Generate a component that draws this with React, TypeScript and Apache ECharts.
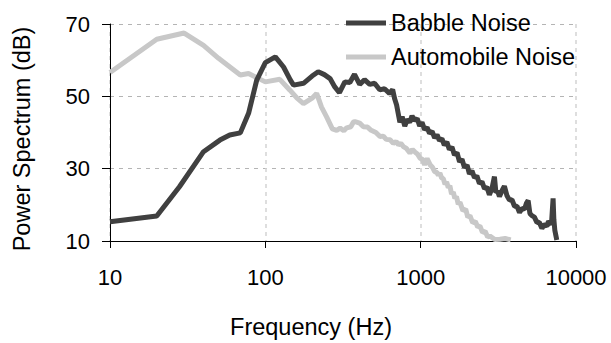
import React, { useEffect, useRef } from "react";
import * as echarts from "echarts";

const xTicks = [10, 100, 1000, 10000];
const yTicks = [10, 30, 50, 70];

const seriesNames = ["Babble Noise", "Automobile Noise"];

const babble: [number, number][] = [
  [10, 15.3], [20, 16.9], [28, 25], [40, 34.7], [51, 37.9], [59, 39.3], [69, 39.9],
  [78, 45.3], [88, 54.5], [100, 59.3], [116, 60.9], [131, 58.1], [145, 54.5],
  [152, 53.1], [176, 53.6], [200, 55.6], [219, 56.8], [240, 56], [261, 54.9],
  [280, 52.6], [300, 51.0], [325, 54.0], [350, 53.8], [375, 56.1], [405, 53.3],
  [435, 54.6], [470, 53.3], [505, 53.6], [545, 51.8], [585, 52.1], [630, 50.8],
  [660, 51.9], [680, 49.3], [700, 47.6], [735, 42.8], [760, 44.4], [790, 41.8],
  [820, 43.6], [850, 42.8], [880, 44.6], [915, 43.3], [950, 43.9], [985, 41.8],
  [1020, 42.8], [1060, 40.8], [1100, 41.4], [1140, 39.8], [1185, 40.3],
  [1230, 38.5], [1275, 39.4], [1320, 37.8], [1370, 38.3], [1420, 36.5],
  [1475, 37.4], [1530, 35.3], [1590, 36.0], [1650, 33.8], [1715, 34.4],
  [1780, 31.9], [1845, 32.6], [1915, 30.3], [1990, 31.0], [2060, 28.6],
  [2140, 29.4], [2220, 27.5], [2300, 28.0], [2390, 25.9], [2480, 26.4],
  [2575, 24.5], [2670, 24.9], [2770, 22.8], [2880, 24.6], [2985, 27.8],
  [3050, 23.4], [3130, 23.8], [3215, 22.3], [3340, 23.9], [3460, 25.2],
  [3590, 22.6], [3730, 21.3], [3870, 21.4], [4020, 19.6], [4170, 19.6],
  [4330, 17.9], [4500, 19.0], [4660, 18.8], [4800, 20.5], [4920, 21.2],
  [5050, 17.6], [5200, 17.0], [5400, 16.6], [5600, 15.1], [5800, 15.2],
  [6030, 13.5], [6250, 14.6], [6500, 14.1], [6650, 15.5], [6780, 15.1],
  [6950, 14.6], [7120, 21.8], [7200, 16], [7305, 13.0], [7520, 10.3],
];

const automobile: [number, number][] = [
  [10, 56.6], [20, 65.8], [30, 67.5], [40, 64.1], [50, 60.5], [69, 55.9],
  [78, 56.3], [100, 54], [124, 54.7], [144, 51.7], [160, 49.5], [176, 48],
  [200, 49.5], [214, 50.8], [230, 47], [248, 44.3], [270, 41.0], [288, 40.6],
  [303, 41.2], [320, 40.5], [334, 41.3], [355, 41.6], [369, 42.9], [378, 43.0],
  [405, 42.6], [428, 41.6], [455, 41.5], [480, 40.6], [515, 40.0], [547, 38.9],
  [575, 39.0], [600, 38.1], [635, 38.0], [667, 37.0], [695, 37.5], [720, 36.6],
  [745, 37.0], [773, 36.1], [810, 35.6], [853, 34.3], [885, 35.3], [920, 34.6],
  [955, 34.0], [991, 32.9], [1025, 32.6], [1060, 31.1], [1100, 32.8],
  [1149, 31.1], [1190, 30.4], [1230, 29.2], [1268, 29.0], [1300, 28.2],
  [1330, 28.8], [1365, 27.4], [1397, 27.3], [1435, 25.7], [1469, 26.3],
  [1505, 24.8], [1542, 25.3], [1580, 23.0], [1622, 23.5], [1660, 21.8],
  [1700, 22.3], [1745, 20.2], [1791, 20.7], [1870, 18.4], [1950, 18.8],
  [2010, 16.6], [2076, 17.0], [2160, 15.1], [2250, 15.4], [2330, 13.9],
  [2406, 14.2], [2500, 12.4], [2600, 12.7], [2700, 11.1], [2790, 11.4],
  [3000, 10.4], [3236, 10.5], [3500, 10.7], [3800, 10.3],
];

const FONT = "'Liberation Sans', Arial, Helvetica, sans-serif";

export default function App() {
  const ref = useRef<HTMLDivElement>(null);
  useEffect(() => {
    if (!ref.current) return;
    const chart = echarts.init(ref.current, undefined, { renderer: "svg" });
    chart.setOption({
      animation: false,
      backgroundColor: "#ffffff",
      grid: { left: 110, right: 35, top: 24, bottom: 102 },
      legend: {
        orient: "vertical",
        left: 341,
        top: 6,
        itemWidth: 40,
        itemHeight: 5,
        itemGap: 10,
        icon: "rect",
        data: seriesNames,
        textStyle: { fontFamily: FONT, fontSize: 23.5, color: "#000", lineHeight: 24 },
      },
      xAxis: {
        type: "log",
        logBase: 10,
        min: xTicks[0],
        max: xTicks[xTicks.length - 1],
        axisLine: { show: true, lineStyle: { color: "#000", width: 1 } },
        axisTick: { show: true, length: 7, lineStyle: { color: "#000" } },
        axisLabel: {
          margin: 25,
          fontFamily: FONT,
          fontSize: 22,
          color: "#000",
          formatter: (v: number) => String(Math.round(v)),
        },
        splitLine: { show: true, lineStyle: { color: "#d4d4d4", type: [4, 4], width: 1.5 } },
        minorTick: { show: false },
      },
      yAxis: {
        type: "value",
        min: yTicks[0],
        max: yTicks[yTicks.length - 1],
        interval: 20,
        axisLine: { show: true, lineStyle: { color: "#000", width: 1 } },
        axisTick: { show: true, length: 8, lineStyle: { color: "#000" } },
        axisLabel: { margin: 20, fontFamily: FONT, fontSize: 22, color: "#000" },
        splitLine: { show: true, lineStyle: { color: "#b4b4b4", type: [4, 5], width: 1 } },
      },
      graphic: [
        {
          type: "text",
          x: 22,
          y: 139,
          rotation: Math.PI / 2,
          style: {
            text: "Power Spectrum (dB)",
            fontFamily: FONT,
            fontSize: 23.5,
            fill: "#000",
            textAlign: "center",
            textVerticalAlign: "middle",
          },
        },
        {
          type: "text",
          x: 311,
          y: 327,
          style: {
            text: "Frequency (Hz)",
            fontFamily: FONT,
            fontSize: 23.5,
            fill: "#000",
            textAlign: "center",
            textVerticalAlign: "middle",
          },
        },
      ],
      series: [
        {
          name: seriesNames[0],
          type: "line",
          data: babble,
          showSymbol: false,
          symbol: "none",
          color: "#404040",
          lineStyle: { color: "#404040", width: 5 },
          z: 3,
        },
        {
          name: seriesNames[1],
          type: "line",
          data: automobile,
          showSymbol: false,
          symbol: "none",
          color: "#c8c8c8",
          lineStyle: { color: "#c8c8c8", width: 5 },
          z: 2,
        },
      ],
    });
    return () => chart.dispose();
  }, []);
  return (
    <div
      ref={ref}
      style={{ position: "fixed", left: 0, top: 0, width: 611, height: 343 }}
    />
  );
}
